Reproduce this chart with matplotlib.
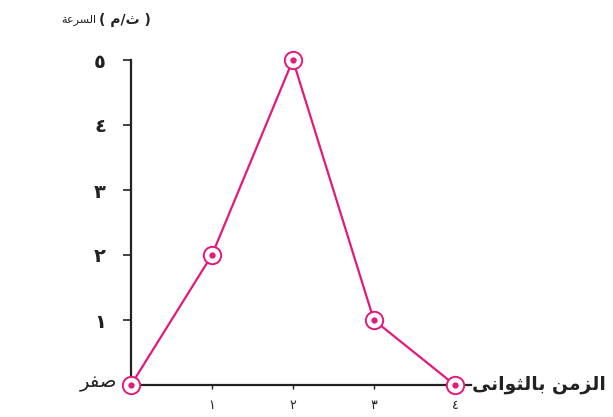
import matplotlib
matplotlib.use("Agg")
import matplotlib.pyplot as plt

# data
time_s = [0, 1, 2, 3, 4]
speed = [0, 2, 5, 1, 0]
x_ticks = [1, 2, 3, 4]
x_tick_labels = ["١", "٢", "٣", "٤"]
y_ticks = [1, 2, 3, 4, 5]
y_tick_labels = ["١", "٢", "٣", "٤", "٥"]
x_label = "الزمن بالثوانى"
y_label = "السرعة"
y_unit = "( م/ث )"
zero_label = "صفر"

PINK = "#e3197b"

# matplotlib does no Arabic shaping, so pick presentation forms by hand
# (isolated, final, initial, medial)
FORMS = {
    "ا": ("\uFE8D", "\uFE8E", None, None),
    "ل": ("\uFEDD", "\uFEDE", "\uFEDF", "\uFEE0"),
    "س": ("\uFEB1", "\uFEB2", "\uFEB3", "\uFEB4"),
    "ر": ("\uFEAD", "\uFEAE", None, None),
    "ع": ("\uFEC9", "\uFECA", "\uFECB", "\uFECC"),
    "ة": ("\uFE93", "\uFE94", None, None),
    "م": ("\uFEE1", "\uFEE2", "\uFEE3", "\uFEE4"),
    "ث": ("\uFE99", "\uFE9A", "\uFE9B", "\uFE9C"),
    "ص": ("\uFEB9", "\uFEBA", "\uFEBB", "\uFEBC"),
    "ف": ("\uFED1", "\uFED2", "\uFED3", "\uFED4"),
    "ز": ("\uFEAF", "\uFEB0", None, None),
    "ن": ("\uFEE5", "\uFEE6", "\uFEE7", "\uFEE8"),
    "ب": ("\uFE8F", "\uFE90", "\uFE91", "\uFE92"),
    "و": ("\uFEED", "\uFEEE", None, None),
    "ى": ("\uFEEF", "\uFEF0", None, None),
}


def shape(text):
    out = []
    for i, ch in enumerate(text):
        if ch not in FORMS:
            out.append(ch)
            continue
        prev = text[i - 1] if i > 0 else ""
        nxt = text[i + 1] if i + 1 < len(text) else ""
        join_prev = prev in FORMS and FORMS[prev][2] is not None
        join_next = FORMS[ch][2] is not None and nxt in FORMS
        iso, fin, ini, med = FORMS[ch]
        if join_prev and join_next:
            out.append(med)
        elif join_prev:
            out.append(fin)
        elif join_next:
            out.append(ini)
        else:
            out.append(iso)
    return "".join(out)[::-1]


fig = plt.figure(figsize=(6.13, 4.17), dpi=100)
ax = fig.add_axes([131 / 613, 32 / 417, 340 / 613, 325 / 417])

ax.plot(time_s, speed, color=PINK, linewidth=1.6, clip_on=False, zorder=3)
ax.plot(time_s, speed, linestyle="none", marker="o", markersize=12.5,
        markerfacecolor="white", markeredgecolor=PINK, markeredgewidth=1.4,
        clip_on=False, zorder=4)
ax.plot(time_s, speed, linestyle="none", marker="o", markersize=3.5,
        color=PINK, clip_on=False, zorder=5)

ax.set_xlim(0, 4.2)
ax.set_ylim(0, 5)
for side in ["top", "right"]:
    ax.spines[side].set_visible(False)
for side in ["left", "bottom"]:
    ax.spines[side].set_linewidth(1.6)
    ax.spines[side].set_color("#222222")

ax.set_xticks(x_ticks)
ax.set_xticklabels(x_tick_labels, fontsize=9, family="DejaVu Sans")
ax.set_yticks(y_ticks)
ax.set_yticklabels(y_tick_labels, fontsize=14, fontweight="bold", family="DejaVu Sans")
ax.tick_params(axis="y", direction="out", length=6, width=1.2, pad=12, colors="#222222")
ax.tick_params(axis="x", direction="out", length=3, width=1.0, pad=7, colors="#222222")

fig.text(472 / 613, 1 - 384 / 417, shape(x_label), fontsize=13.5, fontweight="bold",
         family="DejaVu Sans", ha="left", va="center", color="#222222")
fig.text(117 / 613, 1 - 383 / 417, shape(zero_label), fontsize=14,
         family="DejaVu Sans", ha="right", va="center", color="#222222")
fig.text(96 / 613, 1 - 20 / 417, shape(y_label), fontsize=8,
         family="DejaVu Sans", ha="right", va="center", color="#222222")
fig.text(99 / 613, 1 - 20 / 417, y_unit, fontsize=10, fontweight="bold",
         family="DejaVu Sans", ha="left", va="center", color="#222222")

fig.savefig("out.png", dpi=100)
